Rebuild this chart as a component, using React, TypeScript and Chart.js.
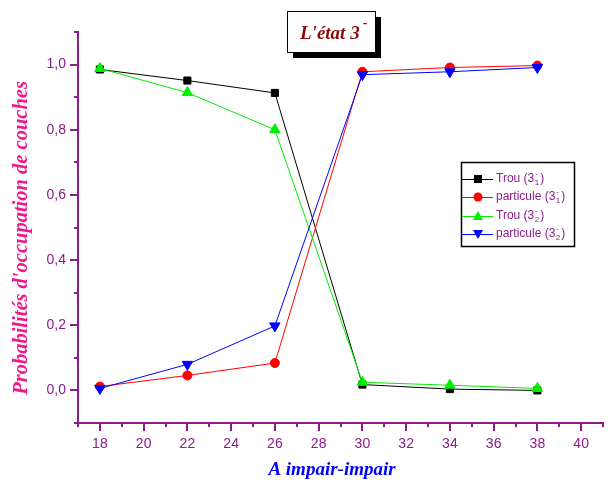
import React, { useEffect, useRef } from 'react';
import { Chart, registerables } from 'chart.js';
Chart.register(...registerables);

const xValues = [18, 22, 26, 30, 34, 38];
const trou31 = [0.985, 0.951, 0.913, 0.018, 0.004, 0.0];
const particule31 = [0.012, 0.046, 0.084, 0.978, 0.991, 0.997];
const trou32 = [0.988, 0.914, 0.8, 0.025, 0.016, 0.006];
const particule32 = [0.006, 0.08, 0.198, 0.969, 0.978, 0.991];

const xTicks = [18, 20, 22, 24, 26, 28, 30, 32, 34, 36, 38, 40];
const xMinor = [17, 19, 21, 23, 25, 27, 29, 31, 33, 35, 37, 39, 41];
const yTicks = [0, 0.2, 0.4, 0.6, 0.8, 1.0];
const yMinor = [-0.1, 0.1, 0.3, 0.5, 0.7, 0.9, 1.1];

const legendLabels = ['Trou', 'particule', 'Trou', 'particule'];
const legendSub = ['1', '1', '2', '2'];
const titleText = "L'état 3";
const xTitle = 'A impair-impair';
const yTitle = "Probabilités d'occupation de couches";

const PURPLE = '#8b1c8b';

const decorPlugin = {
  id: 'decor',
  afterDraw(chart: any) {
    const ctx = chart.ctx as CanvasRenderingContext2D;
    const xs = chart.scales.x;
    const ys = chart.scales.y;
    const area = chart.chartArea;
    ctx.save();
    // minor ticks
    ctx.strokeStyle = PURPLE;
    ctx.lineWidth = 2;
    ctx.beginPath();
    xMinor.forEach((v) => {
      const px = Math.round(xs.getPixelForValue(v));
      ctx.moveTo(px, area.bottom);
      ctx.lineTo(px, area.bottom + 4);
    });
    yMinor.forEach((v) => {
      const py = Math.round(ys.getPixelForValue(v));
      ctx.moveTo(area.left, py);
      ctx.lineTo(area.left - 4, py);
    });
    ctx.stroke();

    // title box
    ctx.fillStyle = '#000';
    ctx.fillRect(293, 17, 88, 41);
    ctx.fillStyle = '#fff';
    ctx.fillRect(287, 11, 88, 41);
    ctx.strokeStyle = '#000';
    ctx.lineWidth = 1;
    ctx.strokeRect(287.5, 11.5, 88, 41);
    ctx.fillStyle = '#8b0a0a';
    ctx.font = 'italic bold 19px "Liberation Serif"';
    ctx.textAlign = 'left';
    ctx.textBaseline = 'alphabetic';
    ctx.fillText(titleText, 300, 39);
    const tw = ctx.measureText(titleText).width;
    ctx.font = 'bold 14px "Liberation Serif"';
    ctx.fillText('-', 300 + tw + 3, 27);

    // axis titles
    ctx.fillStyle = '#0000ff';
    ctx.font = 'italic bold 19px "Liberation Serif"';
    ctx.textAlign = 'center';
    ctx.fillText(xTitle, 332, 475);

    ctx.save();
    ctx.translate(27, 238);
    ctx.rotate(-Math.PI / 2);
    ctx.fillStyle = '#f0168c';
    ctx.font = 'italic bold 20.5px "Liberation Serif"';
    ctx.textAlign = 'center';
    ctx.fillText(yTitle, 0, 0);
    ctx.restore();

    // legend box
    ctx.strokeStyle = '#000';
    ctx.lineWidth = 1.5;
    ctx.strokeRect(461.5, 162.5, 113, 84);
    const rows = [179, 197, 216, 234];
    const datasets = chart.data.datasets;
    rows.forEach((ry, i) => {
      const ds = datasets[i];
      ctx.strokeStyle = ds.borderColor;
      ctx.lineWidth = 1;
      ctx.beginPath();
      ctx.moveTo(462, ry + 0.5);
      ctx.lineTo(493, ry + 0.5);
      ctx.stroke();
      ctx.fillStyle = ds.pointBackgroundColor;
      const mx = 478;
      ctx.beginPath();
      if (i === 0) {
        ctx.rect(mx - 4, ry - 4, 8, 8);
      } else if (i === 1) {
        ctx.arc(mx, ry, 4.5, 0, Math.PI * 2);
      } else if (i === 2) {
        ctx.moveTo(mx, ry - 5);
        ctx.lineTo(mx + 5, ry + 4);
        ctx.lineTo(mx - 5, ry + 4);
        ctx.closePath();
      } else {
        ctx.moveTo(mx, ry + 5);
        ctx.lineTo(mx + 5, ry - 4);
        ctx.lineTo(mx - 5, ry - 4);
        ctx.closePath();
      }
      ctx.fill();
      ctx.fillStyle = PURPLE;
      ctx.textAlign = 'left';
      ctx.textBaseline = 'middle';
      ctx.font = '12px "Liberation Sans"';
      const base = legendLabels[i] + ' (3';
      ctx.fillText(base, 496, ry);
      let x = 496 + ctx.measureText(base).width;
      ctx.font = '8px "Liberation Sans"';
      ctx.fillText(legendSub[i], x + 0.5, ry + 4);
      ctx.fillText('-', x + 1, ry - 5);
      x += ctx.measureText(legendSub[i]).width + 1.5;
      ctx.font = '12px "Liberation Sans"';
      ctx.fillText(')', x, ry);
    });
    ctx.restore();
  },
};

export default function App() {
  const ref = useRef<HTMLCanvasElement | null>(null);
  useEffect(() => {
    if (!ref.current) return;
    const mk = (d: number[]) => d.map((y, i) => ({ x: xValues[i], y }));
    const chart = new Chart(ref.current, {
      type: 'line',
      data: {
        datasets: [
          {
            label: 'Trou (3_1-)',
            data: mk(trou31),
            borderColor: '#000000',
            backgroundColor: '#000000',
            pointBackgroundColor: '#000000',
            pointBorderColor: '#000000',
            pointStyle: 'rect',
            pointRadius: 5,
            borderWidth: 1,
            order: 3,
          },
          {
            label: 'particule (3_1-)',
            data: mk(particule31),
            borderColor: '#ff0000',
            backgroundColor: '#ff0000',
            pointBackgroundColor: '#ff0000',
            pointBorderColor: '#ff0000',
            pointStyle: 'circle',
            pointRadius: 4.5,
            borderWidth: 1,
            order: 2,
          },
          {
            label: 'Trou (3_2-)',
            data: mk(trou32),
            borderColor: '#00ee00',
            backgroundColor: '#00ee00',
            pointBackgroundColor: '#00ee00',
            pointBorderColor: '#00ee00',
            pointStyle: 'triangle',
            pointRadius: 6,
            borderWidth: 1,
            order: 1,
          },
          {
            label: 'particule (3_2-)',
            data: mk(particule32),
            borderColor: '#0000ff',
            backgroundColor: '#0000ff',
            pointBackgroundColor: '#0000ff',
            pointBorderColor: '#0000ff',
            pointStyle: 'triangle',
            pointRotation: 180,
            pointRadius: 6,
            borderWidth: 1,
            order: 0,
          },
        ],
      },
      options: {
        animation: false,
        responsive: false,
        maintainAspectRatio: false,
        layout: { padding: { left: 0, right: 10, top: 32, bottom: 0 } },
        plugins: { legend: { display: false }, tooltip: { enabled: false } },
        scales: {
          x: {
            type: 'linear',
            min: 17,
            max: 41,
            afterFit: (s: any) => { s.height = 61; },
            afterBuildTicks: (s: any) => { s.ticks = xTicks.map((v) => ({ value: v })); },
            grid: { display: true, drawOnChartArea: false, drawTicks: true, tickLength: 8, color: PURPLE, lineWidth: 2 },
            border: { display: true, color: PURPLE, width: 2 },
            ticks: {
              color: PURPLE,
              font: { family: '"Liberation Sans"', size: 14 },
              padding: 5,
              maxRotation: 0,
              callback: (v: any) => String(v),
            },
          },
          y: {
            type: 'linear',
            min: -0.1,
            max: 1.1,
            afterFit: (s: any) => { s.width = 78; },
            afterBuildTicks: (s: any) => { s.ticks = yTicks.map((v) => ({ value: v })); },
            grid: { display: true, drawOnChartArea: false, drawTicks: true, tickLength: 8, color: PURPLE, lineWidth: 2 },
            border: { display: true, color: PURPLE, width: 2 },
            ticks: {
              color: PURPLE,
              font: { family: '"Liberation Sans"', size: 14 },
              padding: 4,
              callback: (v: any) => Number(v).toFixed(1).replace('.', ','),
            },
          },
        },
      },
      plugins: [decorPlugin],
    });
    return () => chart.destroy();
  }, []);
  return (
    <div style={{ position: 'absolute', left: 0, top: 0, width: 613, height: 484, background: '#fff' }}>
      <canvas ref={ref} width={613} height={484} style={{ width: 613, height: 484 }} />
    </div>
  );
}
